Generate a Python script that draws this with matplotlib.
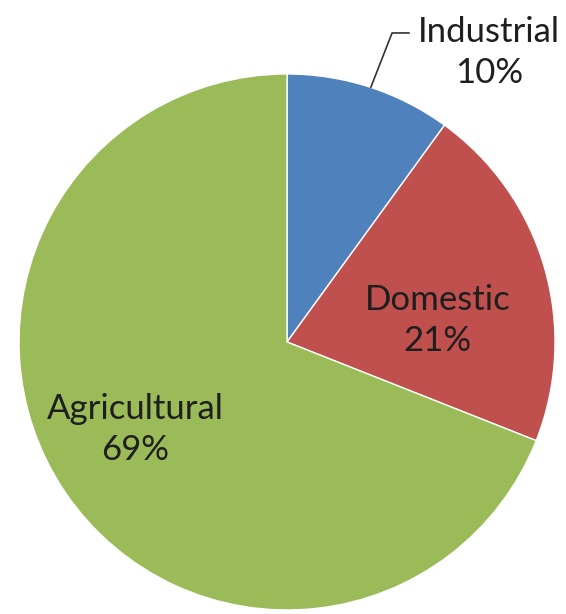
import matplotlib
matplotlib.use("Agg")
import matplotlib.pyplot as plt

sectors = ["Industrial", "Domestic", "Agricultural"]
shares = [10, 21, 69]
colors = ["#4F81BD", "#C0504D", "#9BBB59"]

plt.rcParams["font.family"] = ["Lato", "DejaVu Sans"]

fig = plt.figure(figsize=(5.66, 6.14), dpi=100)
ax = fig.add_axes([0, 0, 1, 1])

wedges, _ = ax.pie(shares, colors=colors, startangle=90, counterclock=False,
                   radius=1, wedgeprops=dict(edgecolor="white", linewidth=1))

ax.set_xlim(-1.071, 1.041)
ax.set_ylim(-1.015, 1.276)
ax.set_aspect("auto")
ax.axis("off")

txt = dict(fontsize=25, color="#1e1e1e", ha="center", va="center", linespacing=1.35)

# Industrial label outside with leader line
ax.plot([0.313, 0.392, 0.455], [0.951, 1.153, 1.153], color="#333333", lw=1.2)
ax.text(0.755, 1.08, f"{sectors[0]}\n{shares[0]}%", **txt)

ax.text(0.563, 0.08, f"{sectors[1]}\n{shares[1]}%", **txt)
ax.text(-0.567, -0.328, f"{sectors[2]}\n{shares[2]}%", **txt)

fig.savefig("out.png", dpi=100)
